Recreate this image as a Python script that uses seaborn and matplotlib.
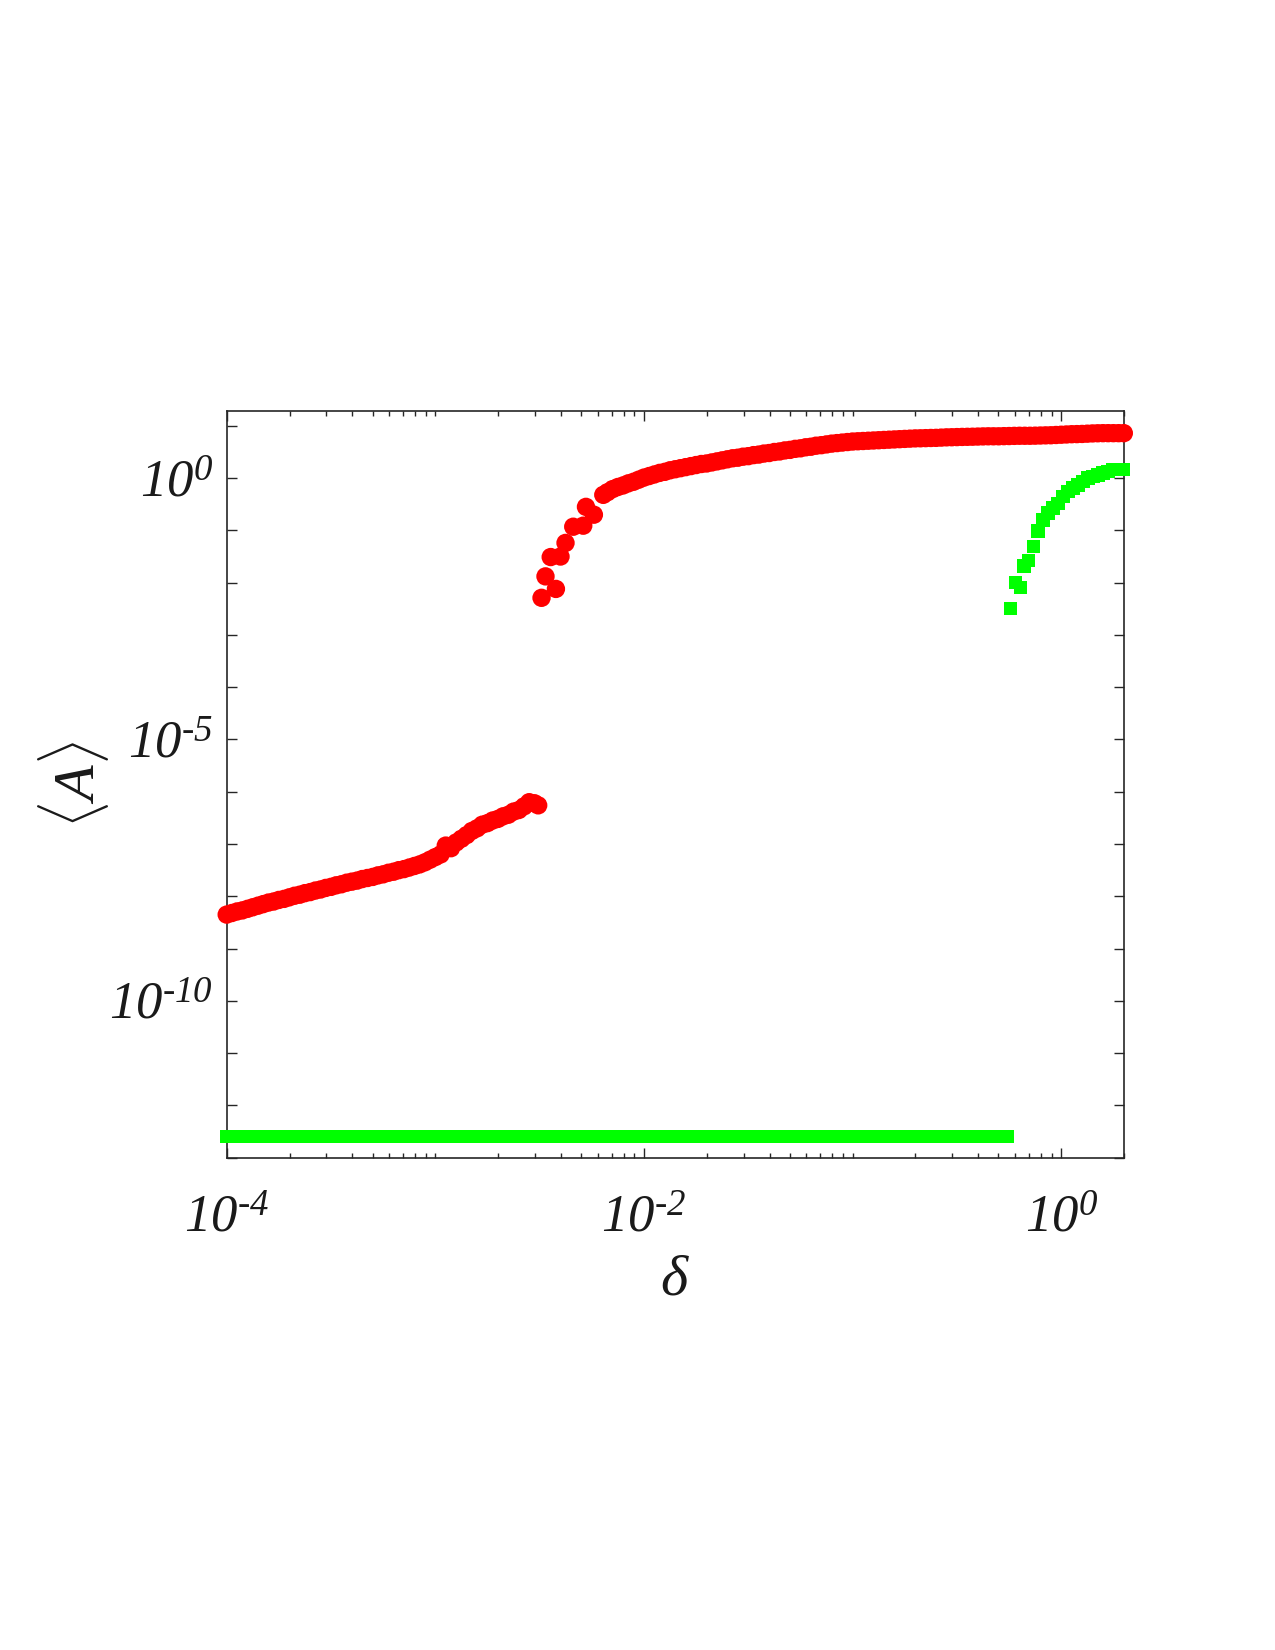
import numpy as np
import matplotlib
matplotlib.use("Agg")
import matplotlib.pyplot as plt
import seaborn as sns
from matplotlib.ticker import FixedLocator, LogLocator, FuncFormatter, NullFormatter

# ---- data (log10 of delta and log10 of <A>) ----
red_lo_logd = [-4.000, -3.975, -3.950, -3.925, -3.900, -3.875, -3.850, -3.825, -3.800, -3.775,
               -3.750, -3.725, -3.700, -3.675, -3.650, -3.625, -3.600, -3.575, -3.550, -3.525,
               -3.500, -3.475, -3.450, -3.425, -3.400, -3.375, -3.350, -3.325, -3.300, -3.275,
               -3.250, -3.225, -3.200, -3.175, -3.150, -3.125, -3.100, -3.075, -3.050, -3.025,
               -3.000, -2.975, -2.950, -2.925, -2.900, -2.875, -2.850, -2.825, -2.800, -2.775,
               -2.750, -2.725, -2.700, -2.675, -2.650, -2.625, -2.600, -2.575, -2.550, -2.525,
               -2.507]
red_lo_logA = [-8.35, -8.32, -8.29, -8.27, -8.24, -8.21, -8.18, -8.15, -8.12, -8.10,
               -8.07, -8.05, -8.02, -7.99, -7.97, -7.94, -7.92, -7.89, -7.87, -7.84,
               -7.82, -7.79, -7.77, -7.74, -7.72, -7.70, -7.67, -7.65, -7.63, -7.60,
               -7.58, -7.55, -7.53, -7.50, -7.48, -7.45, -7.42, -7.39, -7.35, -7.30,
               -7.25, -7.20, -7.03, -7.08, -6.97, -6.90, -6.83, -6.75, -6.70, -6.63,
               -6.60, -6.55, -6.52, -6.47, -6.44, -6.38, -6.35, -6.28, -6.20, -6.22,
               -6.26]

red_jump_logd = [-2.491, -2.472, -2.447, -2.422, -2.400, -2.376, -2.339, -2.291, -2.278, -2.240,
                 -2.195]
red_jump_logA = [-2.29, -1.88, -1.51, -2.12, -1.50, -1.24, -0.93, -0.91, -0.55, -0.70,
                 -0.32]

red_hi_logd = [-2.175, -2.150, -2.125, -2.100, -2.075, -2.050, -2.025, -2.000, -1.975, -1.950,
               -1.925, -1.900, -1.875, -1.850, -1.825, -1.800, -1.775, -1.750, -1.725, -1.700,
               -1.675, -1.650, -1.625, -1.600, -1.575, -1.550, -1.525, -1.500, -1.475, -1.450,
               -1.425, -1.400, -1.375, -1.350, -1.325, -1.300, -1.275, -1.250, -1.225, -1.200,
               -1.175, -1.150, -1.125, -1.100, -1.075, -1.050, -1.025, -1.000, -0.975, -0.950,
               -0.925, -0.900, -0.875, -0.850, -0.825, -0.800, -0.775, -0.750, -0.725, -0.700,
               -0.675, -0.650, -0.625, -0.600, -0.575, -0.550, -0.525, -0.500, -0.475, -0.450,
               -0.425, -0.400, -0.375, -0.350, -0.325, -0.300, -0.275, -0.250, -0.225, -0.200,
               -0.175, -0.150, -0.125, -0.100, -0.075, -0.050, -0.025, 0.000, 0.025, 0.050,
               0.075, 0.100, 0.125, 0.150, 0.175, 0.200, 0.225, 0.250, 0.275, 0.300]
red_hi_logA = [-0.27, -0.21, -0.17, -0.14, -0.10, -0.07, -0.03, 0.01, 0.04, 0.07,
               0.10, 0.12, 0.15, 0.17, 0.19, 0.21, 0.23, 0.25, 0.27, 0.28,
               0.30, 0.32, 0.34, 0.36, 0.38, 0.39, 0.41, 0.42, 0.44, 0.45,
               0.47, 0.48, 0.50, 0.51, 0.53, 0.54, 0.56, 0.57, 0.59, 0.60,
               0.62, 0.63, 0.645, 0.66, 0.67, 0.68, 0.69, 0.70, 0.705, 0.71,
               0.715, 0.72, 0.725, 0.73, 0.735, 0.74, 0.745, 0.75, 0.755, 0.76,
               0.762, 0.765, 0.768, 0.77, 0.775, 0.78, 0.782, 0.785, 0.788, 0.79,
               0.792, 0.795, 0.798, 0.80, 0.80, 0.80, 0.803, 0.805, 0.808, 0.81,
               0.81, 0.81, 0.812, 0.815, 0.818, 0.82, 0.825, 0.83, 0.835, 0.84,
               0.842, 0.845, 0.85, 0.855, 0.858, 0.86, 0.86, 0.86, 0.86, 0.86]

green_lo_logd = [-4.00, -3.95, -3.90, -3.85, -3.80, -3.75, -3.70, -3.65, -3.60, -3.55,
                 -3.50, -3.45, -3.40, -3.35, -3.30, -3.25, -3.20, -3.15, -3.10, -3.05,
                 -3.00, -2.95, -2.90, -2.85, -2.80, -2.75, -2.70, -2.65, -2.60, -2.55,
                 -2.50, -2.45, -2.40, -2.35, -2.30, -2.25, -2.20, -2.15, -2.10, -2.05,
                 -2.00, -1.95, -1.90, -1.85, -1.80, -1.75, -1.70, -1.65, -1.60, -1.55,
                 -1.50, -1.45, -1.40, -1.35, -1.30, -1.25, -1.20, -1.15, -1.10, -1.05,
                 -1.00, -0.95, -0.90, -0.85, -0.80, -0.75, -0.70, -0.65, -0.60, -0.55,
                 -0.50, -0.45, -0.40, -0.35, -0.30, -0.26]
green_lo_logA = [-12.60] * len(green_lo_logd)

green_hi_logd = [-0.242, -0.219, -0.195, -0.178, -0.156, -0.133, -0.111, -0.087, -0.063, -0.039,
                 -0.015, 0.009, 0.033, 0.057, 0.081, 0.104, 0.128, 0.152, 0.176, 0.200,
                 0.224, 0.248, 0.272, 0.296]
green_hi_logA = [-2.50, -2.00, -2.09, -1.68, -1.58, -1.31, -1.01, -0.80, -0.67, -0.57,
                 -0.48, -0.35, -0.26, -0.19, -0.13, -0.06, 0.00, 0.03, 0.06, 0.10,
                 0.13, 0.16, 0.17, 0.17]

x_major = [1e-4, 1e-2, 1e0]
y_major = [1e-10, 1e-5, 1e0]

# ---- style ----
sns.set_theme(style="white")
plt.rcParams["font.family"] = ["Liberation Serif", "DejaVu Serif"]
plt.rcParams["mathtext.fontset"] = "custom"
plt.rcParams["mathtext.rm"] = "Liberation Serif:italic"
plt.rcParams["mathtext.it"] = "Liberation Serif:italic"
plt.rcParams["mathtext.bf"] = "Liberation Serif:bold"

fig = plt.figure(figsize=(12.75, 16.5), dpi=100)
ax = fig.add_axes([0.1778, 0.2984, 0.7038, 0.4527])
ax.set_xscale("log")
ax.set_yscale("log")

red = "#FF0000"
green = "#00FF00"

rd = np.power(10.0, np.concatenate([red_lo_logd, red_jump_logd, red_hi_logd]))
ra = np.power(10.0, np.concatenate([red_lo_logA, red_jump_logA, red_hi_logA]))
gd = np.power(10.0, np.concatenate([green_lo_logd, green_hi_logd]))
ga = np.power(10.0, np.concatenate([green_lo_logA, green_hi_logA]))

sns.scatterplot(x=rd, y=ra, marker="o", s=175, color=red, edgecolor="none",
                linewidth=0, ax=ax, clip_on=False, zorder=3)
sns.scatterplot(x=gd, y=ga, marker="s", s=92, color=green, edgecolor="none",
                linewidth=0, ax=ax, clip_on=False, zorder=3)

ax.set_xlim(1e-4, 2.0)
ax.set_ylim(1e-13, 10 ** 1.29)


def fmt_func(v, p):
    e = int(round(np.log10(v)))
    s = ("\u2010%d" % -e) if e < 0 else "%d" % e
    return "$10^{%s}$" % s


ax.xaxis.set_major_locator(FixedLocator(x_major))
ax.xaxis.set_minor_locator(LogLocator(base=10, subs=np.arange(1, 10), numticks=200))
ax.yaxis.set_major_locator(FixedLocator(y_major))
ax.yaxis.set_minor_locator(LogLocator(base=10, subs=(1.0,), numticks=200))
ax.xaxis.set_major_formatter(FuncFormatter(fmt_func))
ax.yaxis.set_major_formatter(FuncFormatter(fmt_func))
ax.xaxis.set_minor_formatter(NullFormatter())
ax.yaxis.set_minor_formatter(NullFormatter())

axc = "#262626"
for sp in ax.spines.values():
    sp.set_color(axc)
    sp.set_linewidth(1.2)
    sp.set_visible(True)

ax.tick_params(axis="both", which="both", direction="in", top=True, right=True,
               bottom=True, left=True, color=axc, width=1.0, labelcolor="#1a1a1a")
ax.tick_params(axis="x", which="major", length=7.5, labelsize=38, pad=27)
ax.tick_params(axis="x", which="minor", length=3.8)
ax.tick_params(axis="y", which="major", length=7.5, labelsize=38, pad=10)
ax.tick_params(axis="y", which="minor", length=7.5)

ax.set_xlabel(r"$\delta$", fontsize=42, color="#1a1a1a")
ax.set_ylabel(r"$\langle A \rangle$", fontsize=42, color="#1a1a1a")
ax.xaxis.set_label_coords(0.5, -0.13)
ax.yaxis.set_label_coords(-0.129, 0.5)

fig.savefig("out.png", dpi=100, facecolor="white")
